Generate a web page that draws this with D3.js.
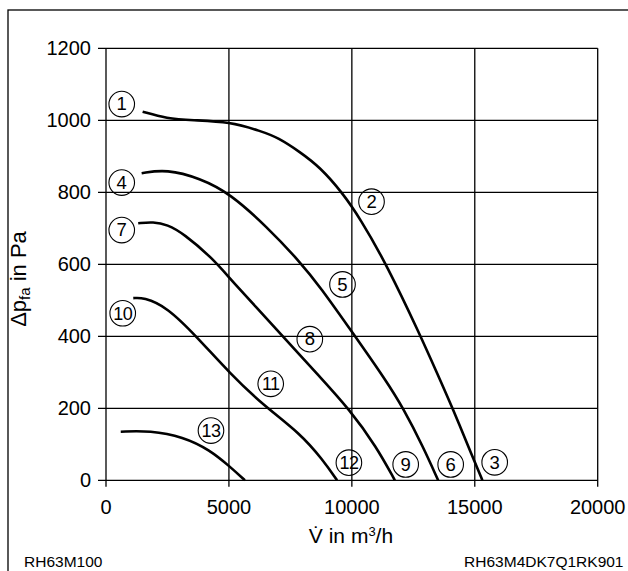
<!DOCTYPE html>
<html>
<head>
<meta charset="utf-8">
<script src="https://cdn.jsdelivr.net/npm/d3@7"></script>
<style>
	html, body { margin: 0; padding: 0; background: #fff; }
	svg { display: block; font-family: "Liberation Sans", Arial, sans-serif; }
</style>
</head>
<body>
<svg id="chart" width="628" height="571"></svg>
<script>
// tick values on both axes
var xTicks = [0, 5000, 10000, 15000, 20000];
var yTicks = [0, 200, 400, 600, 800, 1000, 1200];

// fan curves: volume flow in m3/h, pressure in Pa (read from the sheet)
var curve1Flow = [1490, 2470, 3500, 5040, 6300, 7000, 7890, 8700, 9600, 10330, 11410, 12800, 13450, 14100, 14930, 15310];
var curve1Pressure = [1024, 1005, 1000, 996, 970, 952, 912, 870, 800, 728, 600, 400, 300, 200, 62, 0];

var curve4Flow = [1450, 2470, 3820, 5040, 6530, 7890, 8700, 10050, 11410, 12090, 12900, 13510];
var curve4Pressure = [853, 864, 839, 797, 705, 607, 538, 408, 275, 200, 93, 0];

var curve7Flow = [1310, 1920, 2500, 3140, 4360, 5040, 7210, 7890, 8570, 9920, 11000, 11750];
var curve7Pressure = [714, 718, 710, 686, 615, 560, 399, 348, 297, 196, 93, 0];

var curve10Flow = [1110, 1520, 2470, 3690, 5040, 6390, 7890, 8830, 9400];
var curve10Pressure = [506, 508, 482, 399, 297, 209, 131, 56, 0];

var curve13Flow = [600, 1790, 3140, 4230, 5040, 5650];
var curve13Pressure = [135, 138, 121, 84, 38, 0];

// numbered markers along the curves
var markerNames = ['1', '2', '3', '4', '5', '6', '7', '8', '9', '10', '11', '12', '13'];
var markerFlow = [640, 10800, 15810, 640, 9620, 14020, 640, 8290, 12190, 680, 6700, 9880, 4270];
var markerPressure = [1045, 774, 50, 827, 544, 44, 695, 392, 44, 464, 268, 49, 138];

var svg = d3.select('#chart');

var x = d3.scaleLinear().domain([0, 20000]).range([106, 597.7]);
var y = d3.scaleLinear().domain([0, 1200]).range([480.3, 48.3]);

// outer frame (only top and left edge are inside the picture)
svg.append('rect')
	.attr('x', 8).attr('y', 10)
	.attr('width', 640).attr('height', 600)
	.attr('fill', 'none')
	.attr('stroke', '#000')
	.attr('stroke-width', 1.3);

// grid
var grid = svg.append('g').attr('stroke', '#000').attr('stroke-width', 1.3);
grid.selectAll('line.h').data(yTicks).enter().append('line')
	.attr('x1', x(0) - 8).attr('x2', x(20000))
	.attr('y1', function(d) { return y(d); })
	.attr('y2', function(d) { return y(d); });
grid.selectAll('line.v').data(xTicks).enter().append('line')
	.attr('y1', y(1200)).attr('y2', y(0) + 6.5)
	.attr('x1', function(d) { return x(d); })
	.attr('x2', function(d) { return x(d); });

// tick labels
svg.append('g').selectAll('text').data(yTicks).enter().append('text')
	.attr('x', 91)
	.attr('y', function(d) { return y(d) + 7; })
	.attr('text-anchor', 'end')
	.attr('font-size', 20)
	.text(function(d) { return d; });
svg.append('g').selectAll('text').data(xTicks).enter().append('text')
	.attr('x', function(d) { return x(d); })
	.attr('y', 513.5)
	.attr('text-anchor', 'middle')
	.attr('font-size', 20)
	.text(function(d) { return d; });

// curves
var line = d3.line()
	.x(function(d) { return x(d[0]); })
	.y(function(d) { return y(d[1]); })
	.curve(d3.curveBasis);

var curves = [
	d3.zip(curve1Flow, curve1Pressure),
	d3.zip(curve4Flow, curve4Pressure),
	d3.zip(curve7Flow, curve7Pressure),
	d3.zip(curve10Flow, curve10Pressure),
	d3.zip(curve13Flow, curve13Pressure)
];
svg.append('g').selectAll('path').data(curves).enter().append('path')
	.attr('d', line)
	.attr('fill', 'none')
	.attr('stroke', '#000')
	.attr('stroke-width', 2.6);

// circled numbers
var markers = svg.append('g').selectAll('g').data(markerNames).enter().append('g')
	.attr('transform', function(d, i) {
		return 'translate(' + x(markerFlow[i]) + ',' + y(markerPressure[i]) + ')';
	});
markers.append('circle')
	.attr('r', 12.8)
	.attr('fill', 'none')
	.attr('stroke', '#000')
	.attr('stroke-width', 1.1);
markers.append('text')
	.attr('y', 6.3)
	.attr('text-anchor', 'middle')
	.attr('font-size', function(d) { return d.length > 1 ? 18 : 18.5; })
	.attr('letter-spacing', function(d) { return d.length > 1 ? -0.5 : 0; })
	.text(function(d) { return d; });

// axis titles
var yTitle = svg.append('text')
	.attr('transform', 'translate(26,279) rotate(-90)')
	.attr('text-anchor', 'middle')
	.attr('font-size', 22);
yTitle.append('tspan').text('\u0394p');
yTitle.append('tspan').attr('font-size', 15).attr('dy', 4).text('fa');
yTitle.append('tspan').attr('dy', -4).text(' in Pa');

var xTitle = svg.append('text')
	.attr('x', 351)
	.attr('y', 543)
	.attr('text-anchor', 'middle')
	.attr('font-size', 21);
xTitle.append('tspan').text('V\u0307 in m');
xTitle.append('tspan').attr('font-size', 13).attr('dy', -7).text('3');
xTitle.append('tspan').attr('dy', 7).text('/h');

// type codes in the footer
svg.append('text')
	.attr('x', 24).attr('y', 566.5)
	.attr('font-size', 15.5)
	.text('RH63M100');
svg.append('text')
	.attr('x', 623.5).attr('y', 566.5)
	.attr('text-anchor', 'end')
	.attr('font-size', 15.5)
	.text('RH63M4DK7Q1RK901');
</script>
</body>
</html>
